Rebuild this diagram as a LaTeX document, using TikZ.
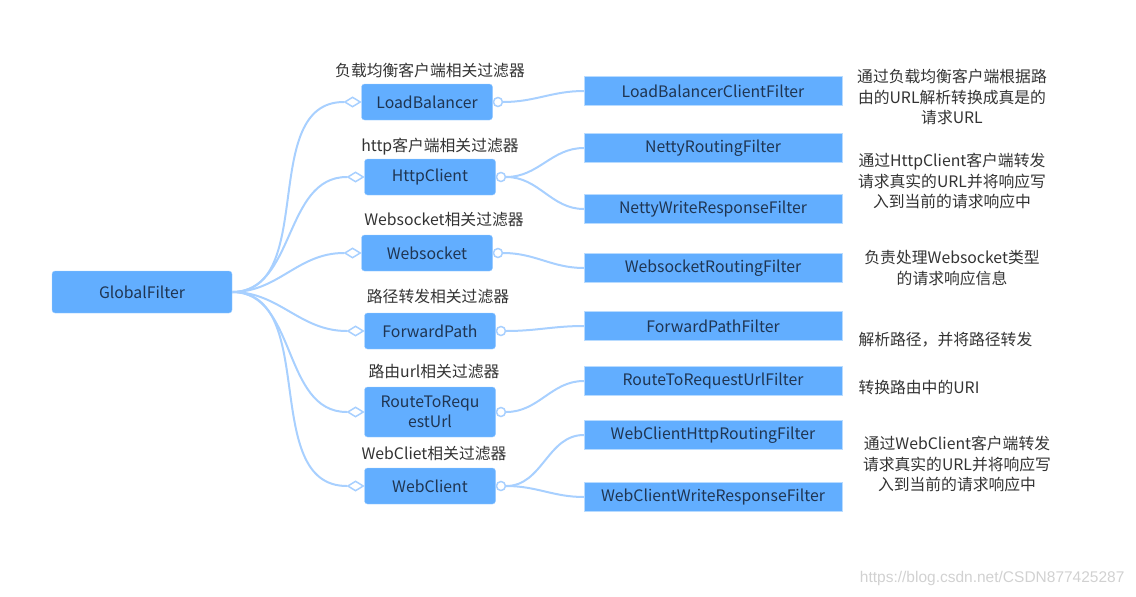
\documentclass[tikz,border=0pt]{standalone}
\usepackage{fontspec}
\setmainfont{Noto Sans CJK SC}
\newfontfamily\wmfont{Liberation Sans}
\usetikzlibrary{shapes.geometric}
\definecolor{boxblue}{HTML}{62AEFF}
\definecolor{edgeblue}{HTML}{A8D0FF}
\definecolor{inkblue}{HTML}{1F3552}
\definecolor{txtgray}{HTML}{333333}
\tikzset{
  base/.style={font=\fontsize{15.8}{20.5}\selectfont},
  midbox/.style={base,draw=boxblue!60!white,fill=boxblue,rounded corners=3pt,
                 text=inkblue,minimum width=131,minimum height=36,
                 align=center,inner sep=2pt},
  rootbox/.style={midbox,minimum width=180,minimum height=42},
  leafbox/.style={base,draw=boxblue!45!white,fill=boxblue,text=inkblue,
                  minimum width=258,minimum height=29,inner sep=2pt},
  lbl/.style={base,text=txtgray},
  note/.style={base,text=txtgray,align=center},
  dia/.style={diamond,draw=edgeblue,fill=white,line width=1.5pt,
              minimum width=16,minimum height=10,inner sep=0pt},
  dot/.style={circle,draw=edgeblue,fill=white,line width=1.5pt,
              minimum size=9,inner sep=0pt},
  link/.style={draw=edgeblue,line width=2pt},
}
\begin{document}
\begin{tikzpicture}[x=1pt, y=-1pt]
  \useasboundingbox (0,0) rectangle (1136,597);
  \node[rootbox] (gf) at (142,292) {GlobalFilter};
  % middle column
  \node[midbox] (lb) at (427,102) {LoadBalancer};
  \node[midbox] (hc) at (430,177) {HttpClient};
  \node[midbox] (ws) at (427,253) {Websocket};
  \node[midbox] (fp) at (430,331) {ForwardPath};
  \node[midbox,minimum height=50] (ru) at (430,412) {RouteToRequ\\estUrl};
  \node[midbox] (wc) at (430,486) {WebClient};
  \node[lbl] (lbt) at (430,70) {负载均衡客户端相关过滤器};
  \node[lbl] (hct) at (440,147) {http客户端相关过滤器};
  \node[lbl] (wst) at (444,220) {Websocket相关过滤器};
  \node[lbl] (fpt) at (438,297) {路径转发相关过滤器};
  \node[lbl] (rut) at (434,372) {路由url相关过滤器};
  \node[lbl] (wct) at (434,454) {WebCliet相关过滤器};
  \foreach \m in {lb,hc,ws,fp,ru,wc} {
    \node[dia,anchor=east] (\m d) at (\m.west) {};
    \node[dot,anchor=west] (\m o) at (\m.east) {};
    \draw[link] (gf.east) to[out=0,in=180] (\m d.west);
  }
  % right column
  \node[leafbox] (lbf) at (713,91) {LoadBalancerClientFilter};
  \node[leafbox] (nrf) at (713,148) {NettyRoutingFilter};
  \node[leafbox] (nwf) at (713,209) {NettyWriteResponseFilter};
  \node[leafbox] (wsf) at (713,268) {WebsocketRoutingFilter};
  \node[leafbox] (fpf) at (713,326) {ForwardPathFilter};
  \node[leafbox] (ruf) at (713,381) {RouteToRequestUrlFilter};
  \node[leafbox] (whf) at (713,435) {WebClientHttpRoutingFilter};
  \node[leafbox] (wwf) at (713,497) {WebClientWriteResponseFilter};
  \foreach \a/\b in {lb/lbf,hc/nrf,hc/nwf,ws/wsf,fp/fpf,ru/ruf,wc/whf,wc/wwf}
    \draw[link] (\a o.east) to[out=0,in=180] (\b.west);
  % notes
  \node[note] (n1) at (952,97) {通过负载均衡客户端根据路\\由的URL解析转换成真是的\\请求URL};
  \node[note] (n2) at (952,181) {通过HttpClient客户端转发\\请求真实的URL并将响应写\\入到当前的请求响应中};
  \node[note] (n3) at (952,268) {负责处理Websocket类型\\的请求响应信息};
  \node[note,anchor=west] (n4) at (855,340) {解析路径，并将路径转发};
  \node[note,anchor=west] (n5) at (855,387) {转换路由中的URI};
  \node[note] (n6) at (957,464) {通过WebClient客户端转发\\请求真实的URL并将响应写\\入到当前的请求响应中};
  \node[text=black!18,font=\wmfont\fontsize{15.5}{18}\selectfont,anchor=east] (wm) at (1128,578) {https://blog.csdn.net/CSDN877425287};
\end{tikzpicture}
\end{document}
